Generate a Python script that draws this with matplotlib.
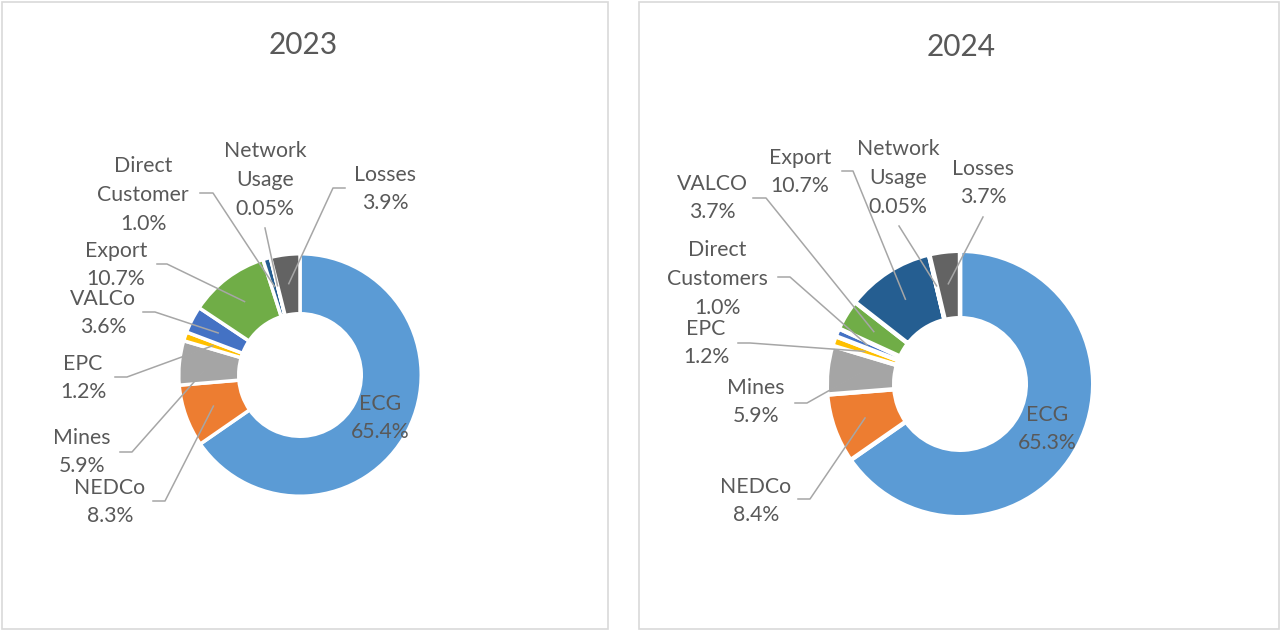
import numpy as np
import matplotlib
matplotlib.use('Agg')
import matplotlib.pyplot as plt
from matplotlib.patches import Rectangle

plt.rcParams['font.family'] = ['Lato', 'DejaVu Sans']

# ------------------------------------------------------------
# data (clockwise from 12 o'clock)
# ------------------------------------------------------------
names_2023 = ["ECG", "NEDCo", "Mines", "EPC", "VALCo", "Export",
              "Direct\nCustomer", "Network\nUsage", "Losses"]
values_2023 = [65.4, 8.3, 5.9, 1.2, 3.6, 10.7, 1.0, 0.05, 3.9]

names_2024 = ["ECG", "NEDCo", "Mines", "EPC", "Direct\nCustomers", "VALCO",
              "Export", "Network\nUsage", "Losses"]
values_2024 = [65.3, 8.4, 5.9, 1.2, 1.0, 3.7, 10.7, 0.05, 3.7]

colors_2023 = ['#5B9BD5', '#ED7D31', '#A5A5A5', '#FFC000', '#4472C4',
               '#70AD47', '#255E91', '#9E480E', '#636363']
colors_2024 = ['#5B9BD5', '#ED7D31', '#A5A5A5', '#FFC000', '#4472C4',
               '#70AD47', '#255E91', '#9E480E', '#636363']

TXT = '#595959'
LEAD = '#A6A6A6'
W, H = 1281, 631

# layout, pixel coords with y measured from the top
# label centre, then leader start points (empty list = no leader)
lay_2023 = [
    ((380, 418), []),
    ((110, 502), [(153, 501), (165, 501)]),
    ((82, 452), [(120, 452), (132, 452)]),
    ((83, 378), [(115, 377), (127, 377)]),
    ((103, 313), [(143, 312), (155, 312)]),
    ((116, 265), [(157, 264), (167, 264)]),
    ((143, 195), [(200, 193), (213, 193)]),
    ((265, 180), [(265, 228)]),
    ((385, 189), [(345, 188), (333, 188)]),
]
lay_2024 = [
    ((1047, 429), []),
    ((756, 501), [(798, 499), (810, 499)]),
    ((756, 402), [(795, 403), (807, 403)]),
    ((706, 343), [(738, 343), (750, 343)]),
    ((717, 279), [(778, 277), (790, 277)]),
    ((712, 198), [(753, 198), (766, 198)]),
    ((800, 172), [(842, 171), (853, 171)]),
    ((898, 178), [(899, 226)]),
    ((983, 183), [(983, 217)]),
]


def pct(v):
    return f"{v:.2f}%" if v < 0.1 else f"{v:.1f}%"


def donut(ax, vals, names, cols, lay, cx, cy, r_out, r_in, lw):
    lw_px = lw * 100 / 72
    R = r_out + lw_px / 2
    wid = R - (r_in - lw_px / 2)
    ax.pie(vals, colors=cols, startangle=90, counterclock=False,
           radius=R, center=(cx, H - cy),
           wedgeprops=dict(width=wid, edgecolor='white', linewidth=lw))
    tot = sum(vals)
    cum = np.cumsum([0] + list(vals[:-1]))
    for v, c0, nm, (pos, pts) in zip(vals, cum, names, lay):
        ax.text(pos[0], H - pos[1], nm + "\n" + pct(v), ha='center',
                va='center', fontsize=15.3, color=TXT, linespacing=1.55)
        if not pts:
            continue
        ang = np.deg2rad(90 - 360 * (c0 + v / 2) / tot)
        rm = 0.77 * r_out
        xs = [p[0] for p in pts] + [cx + rm * np.cos(ang)]
        ys = [H - p[1] for p in pts] + [H - cy + rm * np.sin(ang)]
        ax.plot(xs, ys, color=LEAD, lw=1.1, zorder=5)


fig = plt.figure(figsize=(12.81, 6.31), dpi=100)
ax = fig.add_axes([0, 0, 1, 1])

donut(ax, values_2023, names_2023, colors_2023, lay_2023, 300, 375, 119.5, 63, 2.5)
donut(ax, values_2024, names_2024, colors_2024, lay_2024, 960, 384, 131, 68, 3.2)

ax.text(303, H - 45, "2023", ha='center', va='center', fontsize=21.5, color=TXT)
ax.text(961, H - 47, "2024", ha='center', va='center', fontsize=21.5, color=TXT)

for x0, x1 in [(1.5, 608), (639, 1278.5)]:
    ax.add_patch(Rectangle((x0, H - 629), x1 - x0, 627, fill=False,
                           edgecolor='#D9D9D9', lw=1.2, zorder=0))

ax.set_xlim(0, W)
ax.set_ylim(0, H)
ax.set_aspect('auto')
ax.axis('off')

fig.savefig("out.png", dpi=100)
